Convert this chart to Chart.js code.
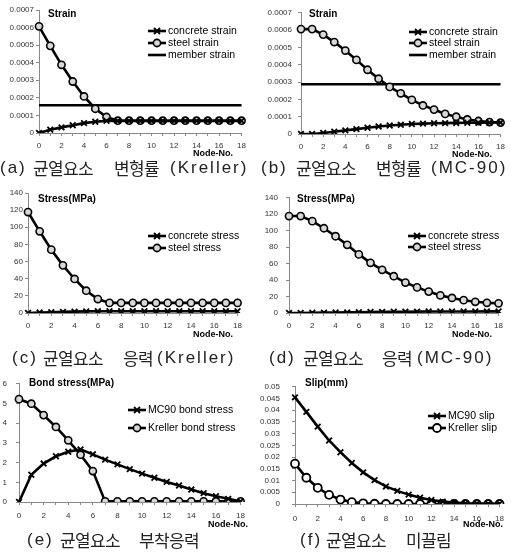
<!DOCTYPE html>
<html>
<head>
<meta charset="utf-8">
<script src="https://cdn.jsdelivr.net/npm/chart.js@4.4.0/dist/chart.umd.min.js"></script>
<style>
  body { margin: 0; background: #fff; }
  #wrap { position: relative; width: 511px; height: 555px; overflow: hidden; }
  #wrap canvas { position: absolute; }
  .cap { position: absolute; height: 22px; line-height: 22px; color: #222; white-space: pre; }
  .cap span { position: absolute; top: 0; }
  .k { font-family: "Noto Sans CJK KR"; font-size: 17px; letter-spacing: -0.6px; }
  .l { font-family: "Liberation Sans"; font-size: 17px; letter-spacing: 2px; }
</style>
</head>
<body>
<div id="wrap">
  <canvas id="cA"></canvas><canvas id="cB"></canvas>
  <canvas id="cC"></canvas><canvas id="cD"></canvas>
  <canvas id="cE"></canvas><canvas id="cF"></canvas>
  <div class="cap" style="left:0;top:157px">
    <span class="l" style="left:0px">(a)</span><span class="k" style="left:33px">균열요소</span>
    <span class="k" style="left:114px">변형률</span><span class="l" style="left:170px">(Kreller)</span></div>
  <div class="cap" style="left:0;top:157px">
    <span class="l" style="left:261px">(b)</span><span class="k" style="left:296px">균열요소</span>
    <span class="k" style="left:376px">변형률</span><span class="l" style="left:431px">(MC-90)</span></div>
  <div class="cap" style="left:0;top:347px">
    <span class="l" style="left:12px">(c)</span><span class="k" style="left:43px">균열요소</span>
    <span class="k" style="left:123px">응력</span><span class="l" style="left:157px">(Kreller)</span></div>
  <div class="cap" style="left:0;top:347px">
    <span class="l" style="left:269px">(d)</span><span class="k" style="left:303px">균열요소</span>
    <span class="k" style="left:382px">응력</span><span class="l" style="left:417px">(MC-90)</span></div>
  <div class="cap" style="left:0;top:529px">
    <span class="l" style="left:27px">(e)</span><span class="k" style="left:60px">균열요소</span>
    <span class="k" style="left:139px">부착응력</span></div>
  <div class="cap" style="left:0;top:529px">
    <span class="l" style="left:300px">(f)</span><span class="k" style="left:326px">균열요소</span>
    <span class="k" style="left:406px">미끌림</span></div>
</div>
<script>
const nodes = ['0','1','2','3','4','5','6','7','8','9','10','11','12','13','14','15','16','17','18'];

// (a) strain, Kreller
const krellerConcreteStrain = [0, 0.000019, 0.000032, 0.000044, 0.000056, 0.000064, 0.000069, 0.000069, 0.000069, 0.000069, 0.000069, 0.000069, 0.000069, 0.000069, 0.000069, 0.000069, 0.000069, 0.000069, 0.000069];
const krellerSteelStrain = [0.000607, 0.000496, 0.000388, 0.000293, 0.000208, 0.000138, 0.000091, 0.00007, 0.00007, 0.00007, 0.00007, 0.00007, 0.00007, 0.00007, 0.00007, 0.00007, 0.00007, 0.00007, 0.00007];
const krellerMemberStrain = [0.000158, 0.000158, 0.000158, 0.000158, 0.000158, 0.000158, 0.000158, 0.000158, 0.000158, 0.000158, 0.000158, 0.000158, 0.000158, 0.000158, 0.000158, 0.000158, 0.000158, 0.000158, 0.000158];

// (b) strain, MC-90
const mcConcreteStrain = [0, 0, 0.000006, 0.000013, 0.000021, 0.000028, 0.000036, 0.000043, 0.000049, 0.000053, 0.000058, 0.00006, 0.000062, 0.000063, 0.000064, 0.000065, 0.000065, 0.000066, 0.000066];
const mcSteelStrain = [0.000606, 0.000606, 0.000574, 0.000531, 0.000482, 0.000428, 0.000371, 0.000319, 0.000272, 0.000235, 0.000197, 0.000165, 0.000141, 0.000116, 0.0001, 0.000084, 0.000075, 0.000069, 0.000066];
const mcMemberStrain = [0.000287, 0.000287, 0.000287, 0.000287, 0.000287, 0.000287, 0.000287, 0.000287, 0.000287, 0.000287, 0.000287, 0.000287, 0.000287, 0.000287, 0.000287, 0.000287, 0.000287, 0.000287, 0.000287];

// (c) stress, Kreller
const krellerConcreteStress = [0, 0.5, 0.9, 1.3, 1.6, 1.9, 2, 2, 2, 2, 2, 2, 2, 2, 2, 2, 2, 2, 2];
const krellerSteelStress = [117.8, 95.3, 73.9, 55.6, 39.7, 26, 16.3, 11.8, 11.8, 11.8, 11.8, 11.8, 11.8, 11.8, 11.8, 11.8, 11.8, 11.8, 11.8];

// (d) stress, MC-90
const mcConcreteStress = [0, 0, 0.2, 0.4, 0.6, 0.8, 1, 1.2, 1.4, 1.5, 1.6, 1.7, 1.8, 1.8, 1.9, 1.9, 1.9, 2, 2];
const mcSteelStress = [117.8, 117.8, 111.6, 103, 93.3, 82.8, 71.2, 61, 52.5, 44.7, 37, 31.1, 26, 21.4, 18.3, 15.6, 13.6, 12.4, 11.7];

// (e) bond stress
const mcBondStress = [0, 1.38, 1.95, 2.32, 2.55, 2.67, 2.42, 2.15, 1.91, 1.67, 1.44, 1.23, 1.02, 0.84, 0.63, 0.45, 0.29, 0.16, 0.03];
const krellerBondStress = [5.22, 4.99, 4.41, 3.81, 3.13, 2.4, 1.57, 0.03, 0.03, 0.03, 0.03, 0.03, 0.03, 0.03, 0.03, 0.03, 0.03, 0.03, 0.03];

// (f) slip
const mcSlip = [0.0455, 0.0393, 0.033, 0.0271, 0.0221, 0.0175, 0.0135, 0.0102, 0.0075, 0.0056, 0.004, 0.0027, 0.0017, 0.001, 0.0006, 0.0003, 0.0002, 0.0001, 0.0001];
const krellerSlip = [0.0172, 0.0112, 0.0069, 0.0039, 0.0019, 0.0008, 0.0003, 0.0001, 0, 0, 0, 0, 0, 0, 0, 0, 0, 0, 0];

const FONT = '"Liberation Sans", Arial, sans-serif';

// marker styles
const xMark = { pointStyle: 'crossRot', pointRadius: 4, pointBorderWidth: 1.8, pointBackgroundColor: '#000' };
const oMark = { pointStyle: 'circle', pointRadius: 3.6, pointBorderWidth: 1.6, pointBackgroundColor: '#d8d8d8' };
const oWhite = { pointStyle: 'circle', pointRadius: 4, pointBorderWidth: 1.8, pointBackgroundColor: '#fff' };
const noMark = { pointRadius: 0 };

function ds(label, data, mark) {
  return Object.assign({ label: label, data: data, borderColor: '#000', pointBorderColor: '#000',
    borderWidth: 2.6, tension: 0, pointHoverRadius: 0 }, mark);
}

// title, legend and "Node-No." label, given in page coords
const overlay = {
  id: 'overlay',
  afterDraw(chart, args, o) {
    const ctx = chart.ctx;
    ctx.save();
    ctx.fillStyle = '#000';
    ctx.textBaseline = 'middle';
    ctx.font = 'bold 10px ' + FONT;
    ctx.fillText(o.title, o.title_x - o.ox, o.title_y - o.oy);
    ctx.font = 'bold 9px ' + FONT;
    ctx.textAlign = 'center';
    ctx.fillText('Node-No.', o.node_x - o.ox, o.node_y - o.oy);
    ctx.textAlign = 'left';
    ctx.font = '10.5px ' + FONT;
    chart.data.datasets.forEach((d, i) => {
      const x = o.leg_x - o.ox, y = o.leg_y[i] - o.oy;
      ctx.strokeStyle = '#000';
      ctx.lineWidth = 2.6;
      ctx.beginPath(); ctx.moveTo(x, y); ctx.lineTo(x + 18, y); ctx.stroke();
      if (d.pointRadius > 0) {
        ctx.fillStyle = d.pointBackgroundColor;
        ctx.lineWidth = d.pointBorderWidth;
        ctx.beginPath();
        if (d.pointStyle === 'circle') {
          ctx.arc(x + 9, y, d.pointRadius, 0, Math.PI * 2); ctx.fill(); ctx.stroke();
        } else {
          const r = d.pointRadius * 0.75;
          ctx.moveTo(x + 9 - r, y - r); ctx.lineTo(x + 9 + r, y + r);
          ctx.moveTo(x + 9 - r, y + r); ctx.lineTo(x + 9 + r, y - r); ctx.stroke();
        }
      }
      ctx.fillStyle = '#000';
      ctx.fillText(d.label, x + 20, y);
    });
    ctx.restore();
  }
};

const PADT = 8, XH = 30, PADR = 8;

function panel(id, p) {
  const cv = document.getElementById(id);
  const axw = p.l - p.px;
  const left = p.px, top = p.t - PADT;
  cv.width = p.r + PADR - left;
  cv.height = p.b + XH - top;
  cv.style.left = left + 'px';
  cv.style.top = top + 'px';
  const tickFont = { family: FONT, size: 8 };
  new Chart(cv, {
    type: 'line',
    data: { labels: nodes, datasets: p.datasets },
    options: {
      responsive: false,
      animation: false,
      layout: { padding: { top: PADT, right: PADR, left: 0, bottom: 0 } },
      scales: {
        x: {
          type: 'category',
          offset: false,
          grid: { drawOnChartArea: false, tickLength: 3, color: '#888' },
          border: { color: '#888', width: 1 },
          ticks: { autoSkip: false, maxRotation: 0, padding: p.xpad, color: '#333', font: tickFont,
                   callback: (v, i) => (i % 2 ? '' : nodes[i]) },
          afterFit: s => { s.height = XH; }
        },
        y: {
          min: 0, max: p.ymax,
          grid: { drawOnChartArea: false, tickLength: 3, color: '#888' },
          border: { color: '#888', width: 1 },
          ticks: { stepSize: p.ystep, autoSkip: false, padding: p.ypad, color: '#333', font: tickFont,
                   callback: v => String(parseFloat(v.toFixed(p.dec))) },
          afterFit: s => { s.width = axw; }
        }
      },
      plugins: {
        legend: { display: false },
        tooltip: { enabled: false },
        overlay: Object.assign({ ox: left, oy: top }, p.ov)
      }
    },
    plugins: [overlay]
  });
}

panel('cA', { px: 0, l: 39, r: 243, t: 10, b: 133, ymax: 0.0007, ystep: 0.0001, dec: 4, xpad: 5, ypad: 2,
  datasets: [ds('concrete strain', krellerConcreteStrain, xMark), ds('steel strain', krellerSteelStrain, oMark),
             ds('member strain', krellerMemberStrain, noMark)],
  ov: { title: 'Strain', title_x: 48, title_y: 14, node_x: 213, node_y: 154, leg_x: 148, leg_y: [31, 43, 55] } });

panel('cB', { px: 255, l: 301, r: 502, t: 10, b: 134, ymax: 0.0007, ystep: 0.0001, dec: 4, xpad: 5, ypad: 6,
  datasets: [ds('concrete strain', mcConcreteStrain, xMark), ds('steel strain', mcSteelStrain, oMark),
             ds('member strain', mcMemberStrain, noMark)],
  ov: { title: 'Strain', title_x: 309, title_y: 14, node_x: 472, node_y: 155, leg_x: 409, leg_y: [32, 43, 55] } });

panel('cC', { px: 0, l: 28, r: 239, t: 193, b: 313, ymax: 140, ystep: 20, dec: 0, xpad: 5, ypad: 2,
  datasets: [ds('concrete stress', krellerConcreteStress, xMark), ds('steel stress', krellerSteelStress, oMark)],
  ov: { title: 'Stress(MPa)', title_x: 38, title_y: 199, node_x: 213, node_y: 335, leg_x: 148, leg_y: [236, 248] } });

panel('cD', { px: 255, l: 289, r: 500, t: 193, b: 313, ymax: 140, ystep: 20, dec: 0, xpad: 5, ypad: 8,
  datasets: [ds('concrete stress', mcConcreteStress, xMark), ds('steel stress', mcSteelStress, oMark)],
  ov: { title: 'Stress(MPa)', title_x: 297, title_y: 199, node_x: 472, node_y: 335, leg_x: 408, leg_y: [236, 247] } });

panel('cE', { px: 0, l: 19, r: 243, t: 378, b: 502, ymax: 6, ystep: 1, dec: 0, xpad: 6, ypad: 9,
  datasets: [ds('MC90 bond stress', mcBondStress, xMark), ds('Kreller bond stress', krellerBondStress, oMark)],
  ov: { title: 'Bond stress(MPa)', title_x: 29, title_y: 383, node_x: 228, node_y: 525, leg_x: 128, leg_y: [410, 428] } });

panel('cF', { px: 255, l: 295, r: 503, t: 378, b: 504, ymax: 0.05, ystep: 0.005, dec: 3, xpad: 7, ypad: 12,
  datasets: [ds('MC90 slip', mcSlip, xMark), ds('Kreller slip', krellerSlip, oWhite)],
  ov: { title: 'Slip(mm)', title_x: 305, title_y: 383, node_x: 483, node_y: 525, leg_x: 428, leg_y: [416, 428] } });
</script>
</body>
</html>
